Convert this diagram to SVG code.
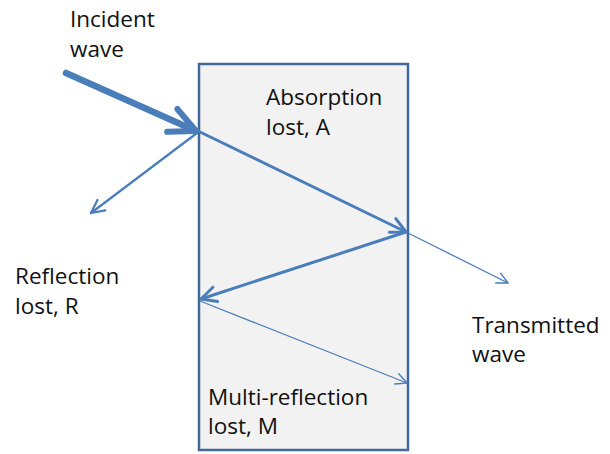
<svg xmlns="http://www.w3.org/2000/svg" width="610" height="454" viewBox="0 0 610 454">
<style>
.lbl{font-family:"Open Sans","Liberation Sans",sans-serif;font-size:22.5px;fill:#111}
.ln{fill:none;stroke:#4a7ebb;stroke-linecap:round}
</style>
<defs>
<marker id="hBig" markerUnits="userSpaceOnUse" markerWidth="40" markerHeight="40" refX="0" refY="0" orient="auto" overflow="visible">
<path d="M-26,-12.5 L0,0 L-26,12.5" fill="none" stroke="#4a7ebb" stroke-width="6" stroke-linecap="round" stroke-linejoin="round"/>
</marker>
<marker id="hMid" markerUnits="userSpaceOnUse" markerWidth="30" markerHeight="30" refX="0" refY="0" orient="auto" overflow="visible">
<path d="M-15,-7.5 L0,0 L-15,7.5" fill="none" stroke="#4a7ebb" stroke-width="3" stroke-linecap="round" stroke-linejoin="round"/>
</marker>
<marker id="hRef" markerUnits="userSpaceOnUse" markerWidth="30" markerHeight="30" refX="0" refY="0" orient="auto" overflow="visible">
<path d="M-13,-6.5 L0,0 L-13,6.5" fill="none" stroke="#4a7ebb" stroke-width="2.2" stroke-linecap="round" stroke-linejoin="round"/>
</marker>
<marker id="hThin" markerUnits="userSpaceOnUse" markerWidth="30" markerHeight="30" refX="0" refY="0" orient="auto" overflow="visible">
<path d="M-11,-5.5 L0,0 L-11,5.5" fill="none" stroke="#4a7ebb" stroke-width="1.4" stroke-linecap="round" stroke-linejoin="round"/>
</marker>
</defs>
<g id="shield">
<rect x="199" y="64" width="209" height="386" fill="#f2f2f2" stroke="#41689a" stroke-width="2.5"/>
</g>
<g id="connectors">
<line class="ln" x1="66" y1="73" x2="196" y2="131" stroke-width="6.5" marker-end="url(#hBig)"/>
<line class="ln" x1="198" y1="131" x2="406" y2="232" stroke-width="3" marker-end="url(#hMid)"/>
<line class="ln" x1="197" y1="133" x2="91" y2="213" stroke-width="2.2" marker-end="url(#hRef)"/>
<line class="ln" x1="408" y1="233" x2="508" y2="283" stroke-width="1.3" marker-end="url(#hThin)"/>
<line class="ln" x1="406" y1="232" x2="201" y2="299" stroke-width="3" marker-end="url(#hMid)"/>
<line class="ln" x1="200" y1="301" x2="407" y2="383" stroke-width="1.3" marker-end="url(#hThin)"/>
</g>
<g id="incident"><text class="lbl" x="70" y="27">Incident</text><text class="lbl" x="70" y="57">wave</text></g>
<g id="absorption"><text class="lbl" x="266" y="105">Absorption</text><text class="lbl" x="266" y="135">lost, A</text></g>
<g id="reflection"><text class="lbl" x="15" y="284">Reflection</text><text class="lbl" x="15" y="314">lost, R</text></g>
<g id="transmitted"><text class="lbl" x="472" y="333">Transmitted</text><text class="lbl" x="472" y="362">wave</text></g>
<g id="multi"><text class="lbl" x="208" y="405">Multi-reflection</text><text class="lbl" x="208" y="434">lost, M</text></g>
</svg>
